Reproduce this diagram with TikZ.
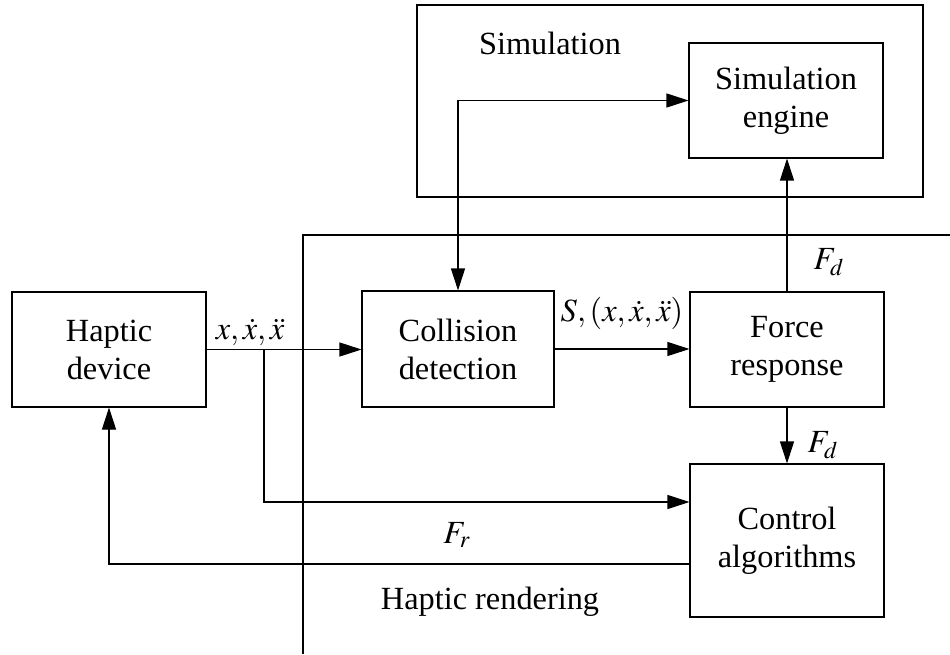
\documentclass[tikz,border=0pt]{standalone}
\usepackage{mathptmx}
\usepackage{fontspec}
\setmainfont{Liberation Serif}
\usepackage{tikz}
\usetikzlibrary{positioning, arrows.meta, calc}

\begin{document}
\begin{tikzpicture}[
  font=\fontsize{18.4}{21.6}\selectfont,
  line width=0.6pt,
  blk/.style={draw, minimum width=3.88cm, minimum height=2.3cm,
              inner sep=0pt, align=center},
  lbl/.style={inner sep=0pt},
  arr/.style={-{Triangle[length=0.44cm, width=0.28cm]}},
  arrb/.style={{Triangle[length=0.44cm, width=0.28cm]}-{Triangle[length=0.44cm, width=0.28cm]}},
]
\useasboundingbox (0,0) rectangle (19,-13.08);

%% ---- simulation part ----
\node[draw, minimum width=10.12cm, minimum height=3.84cm, inner sep=0pt]
  (simbox) at (13.40,-2.02) {};
\node[lbl] (simlab) at (11.00,-0.86) {Simulation};
\node[blk] (engine) at (15.72,-2.01) {Simulation\\engine};

%% ---- haptic rendering part ----
\node[blk] (haptic)    at (2.18,-6.99)  {Haptic\\device};
\node[blk, minimum width=3.84cm, minimum height=2.32cm]
           (collision) at (9.16,-6.98)  {Collision\\detection};
\node[blk] (force)     at (15.74,-6.99) {Force\\response};
\node[blk, minimum height=3.06cm]
           (control)   at (15.74,-10.81) {Control\\algorithms};

%% boundary of the haptic rendering loop
\coordinate (bdR) at (19,-4.70);
\coordinate (bdC) at (6.06,-4.70);
\coordinate (bdB) at (6.06,-13.08);
\draw (bdR) -- (bdC) -- (bdB);
\node[lbl] (hrlab) at (9.80,-12.04) {Haptic rendering};

%% ---- signals ----
\draw[arr] (haptic.east) -- (haptic.east -| collision.west);
\draw[arr] (collision.east) -- (collision.east -| force.west);
\draw[arr] (force.north) -- (force.north |- engine.south);
\draw[arr] (force.south) -- (control.north);
\draw[arrb] (collision.north) |- (engine.west);

\coordinate (br) at (5.28,-6.99);
\coordinate (ctlin) at ($(control.west)+(0,0.77)$);
\coordinate (ctlout) at ($(control.west)+(0,-0.47)$);
\draw[arr] (br) |- (ctlin);
\draw[arr] (ctlout) -| (haptic.south);

%% ---- signal labels ----
\node[lbl] (lx)  at (5.00,-6.64)  {$x,\dot{x},\ddot{x}$};
\node[lbl] (ls)  at (12.44,-6.26) {$S,(x,\dot{x},\ddot{x})$};
\node[lbl] (lf1) at (16.58,-5.24) {$F_d$};
\node[lbl] (lf2) at (16.46,-8.90) {$F_d$};
\node[lbl] (lfr) at (9.14,-10.70) {$F_r$};
\end{tikzpicture}
\end{document}
